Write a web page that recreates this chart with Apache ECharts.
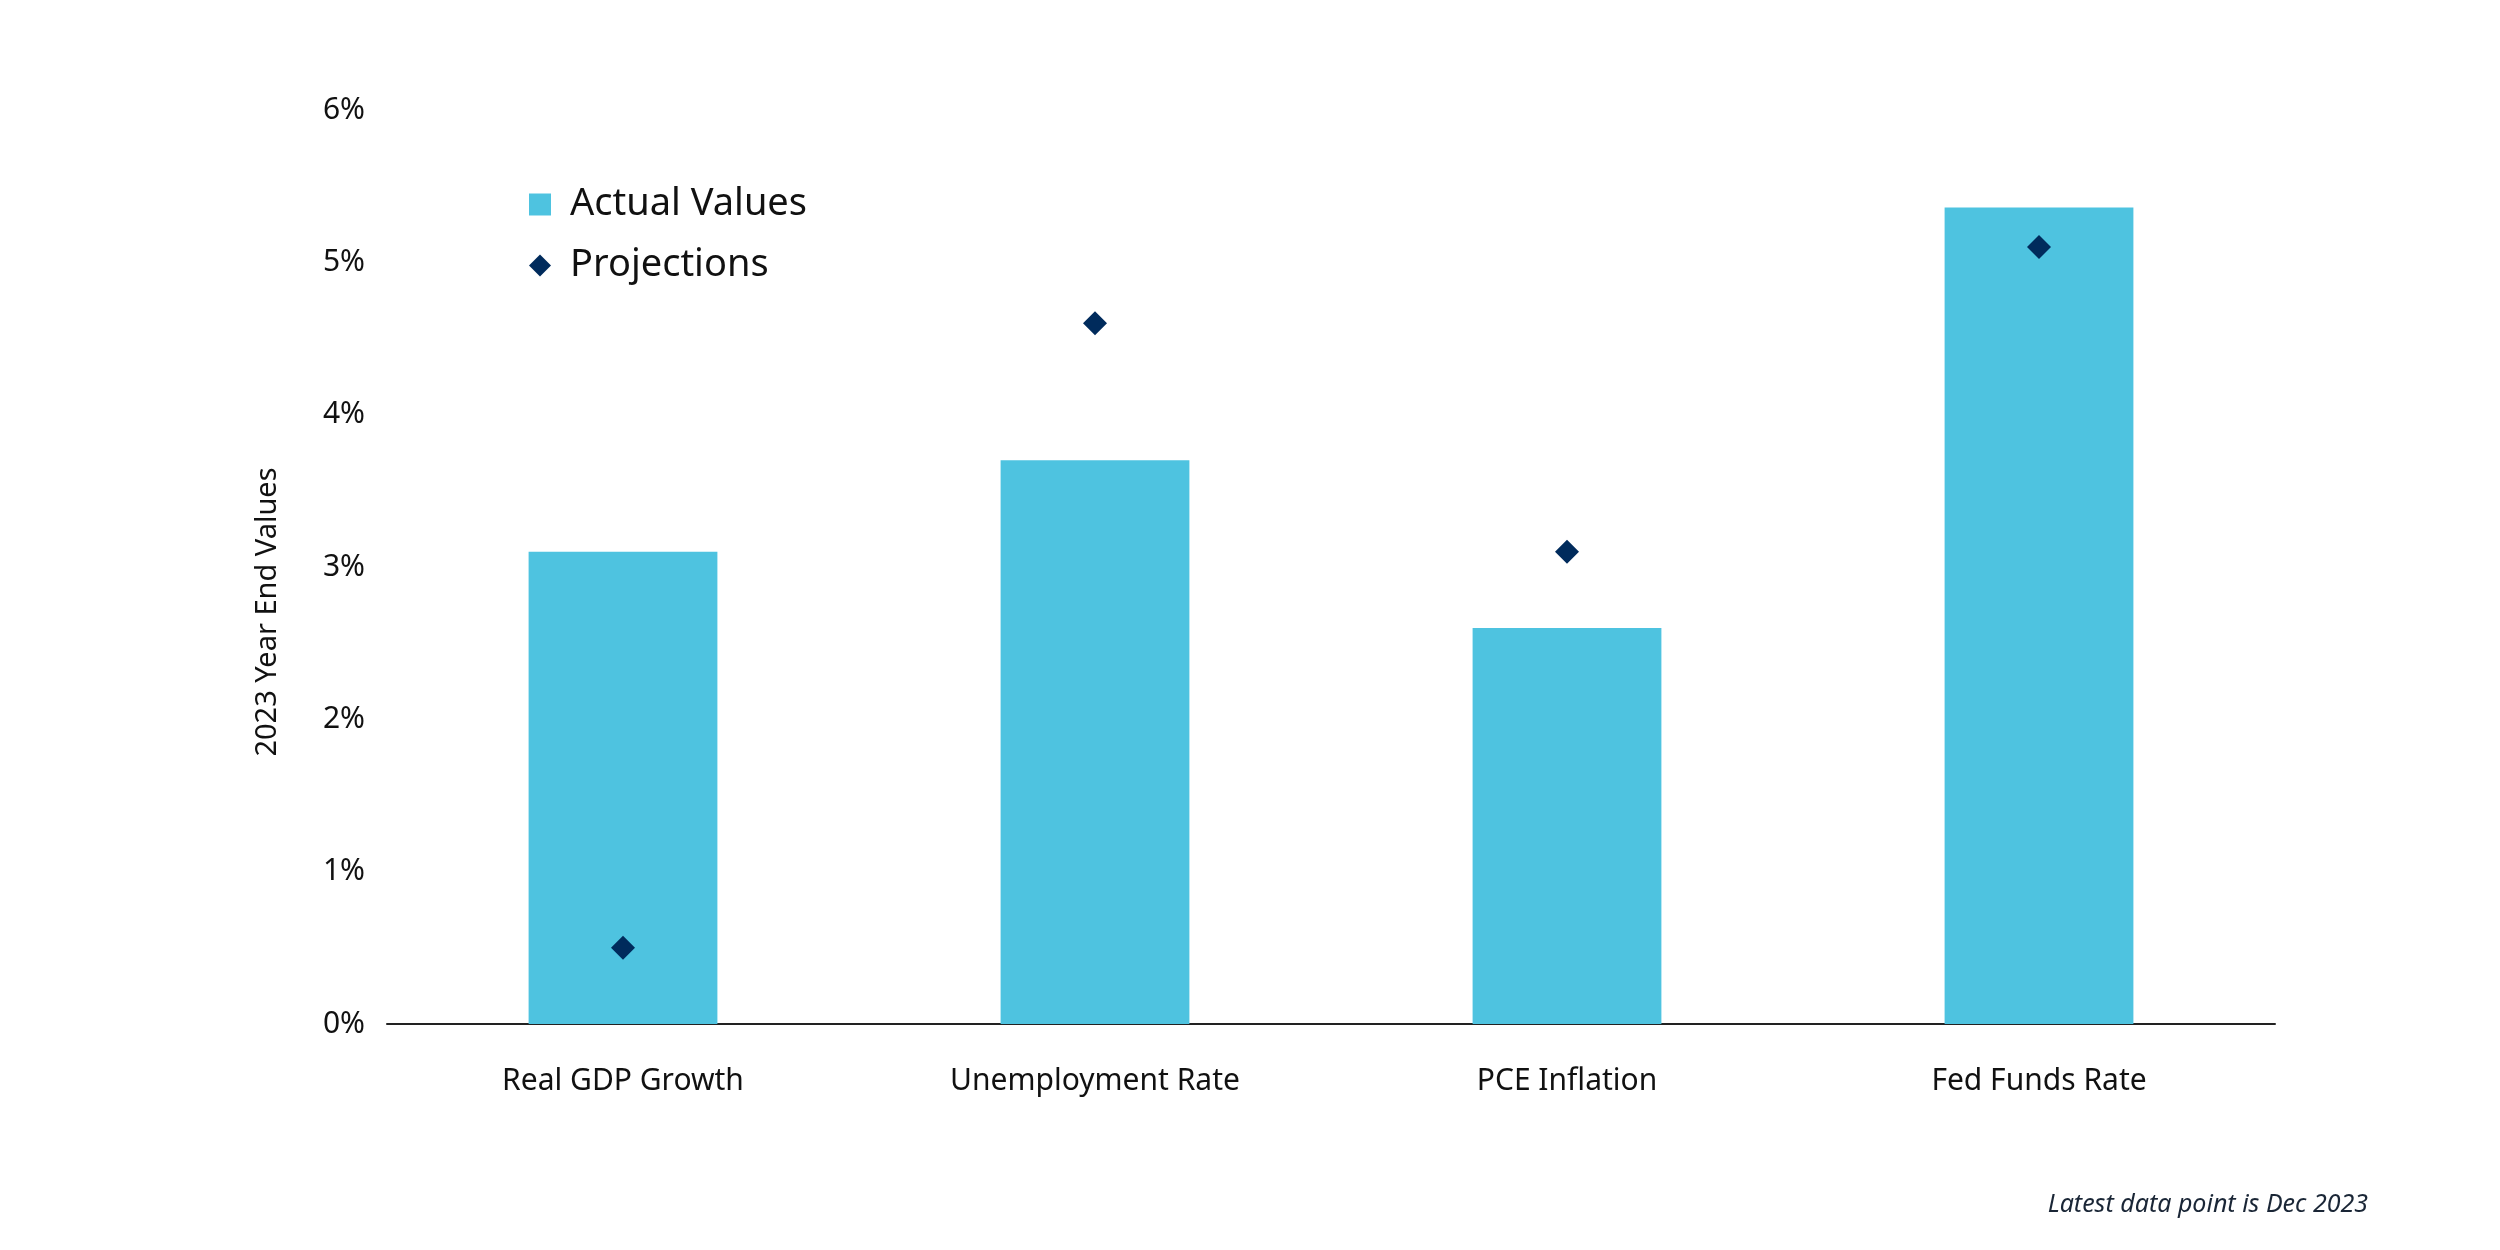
<!DOCTYPE html>
<html>
<head>
<meta charset="utf-8">
<script src="https://cdn.jsdelivr.net/npm/echarts@6/dist/echarts.min.js"></script>
<style>
html,body{margin:0;padding:0;background:#fff;}
#chart{width:2500px;height:1250px;}
</style>
</head>
<body>
<div id="chart"></div>
<script>
const categories = ['Real GDP Growth', 'Unemployment Rate', 'PCE Inflation', 'Fed Funds Rate'];
const actualValues = [3.1, 3.7, 2.6, 5.36];
const projections = [0.5, 4.6, 3.1, 5.1];
const yTicks = { min: 0, max: 6, interval: 1 };

const FONT = '"Noto Sans", sans-serif';
const chart = echarts.init(document.getElementById('chart'));
chart.setOption({
  backgroundColor: '#ffffff',
  animation: false,
  grid: { left: 387, right: 225, top: 110, bottom: 226 },
  legend: {
    orient: 'vertical',
    left: 524,
    top: 178,
    itemWidth: 22,
    itemHeight: 22,
    itemGap: 18,
    textStyle: { fontFamily: FONT, fontSize: 38, color: '#111', lineHeight: 43, padding: [0, 0, 0, 14] },
    data: [
      { name: 'Actual Values', icon: 'rect' },
      { name: 'Projections', icon: 'diamond' }
    ]
  },
  xAxis: {
    type: 'category',
    data: categories,
    axisLine: { lineStyle: { color: '#222', width: 2 } },
    axisTick: { show: false },
    axisLabel: { fontFamily: FONT, fontSize: 30, color: '#111', margin: 42 }
  },
  yAxis: {
    type: 'value',
    min: yTicks.min,
    max: yTicks.max,
    interval: yTicks.interval,
    splitLine: { show: false },
    axisLine: { show: false },
    axisTick: { show: false },
    axisLabel: { fontFamily: FONT, fontSize: 30, color: '#111', margin: 22, formatter: '{value}%' }
  },
  graphic: [
    {
      type: 'text',
      x: 268, y: 612,
      rotation: Math.PI / 2,
      style: { text: '2023 Year End Values', fontFamily: FONT, fontSize: 29, fill: '#111', align: 'center', verticalAlign: 'middle' }
    },
    {
      type: 'text',
      right: 132, top: 1192,
      style: { text: 'Latest data point is Dec 2023', fontFamily: FONT, fontStyle: 'italic', fontSize: 25, fill: '#1a2636' }
    }
  ],
  series: [
    {
      name: 'Actual Values',
      type: 'bar',
      data: actualValues,
      barWidth: '40%',
      itemStyle: { color: '#4EC3E0' }
    },
    {
      name: 'Projections',
      type: 'scatter',
      data: projections,
      symbol: 'diamond',
      symbolSize: 24,
      itemStyle: { color: '#002B5C', opacity: 1 },
      z: 5
    }
  ]
});
</script>
</body>
</html>
